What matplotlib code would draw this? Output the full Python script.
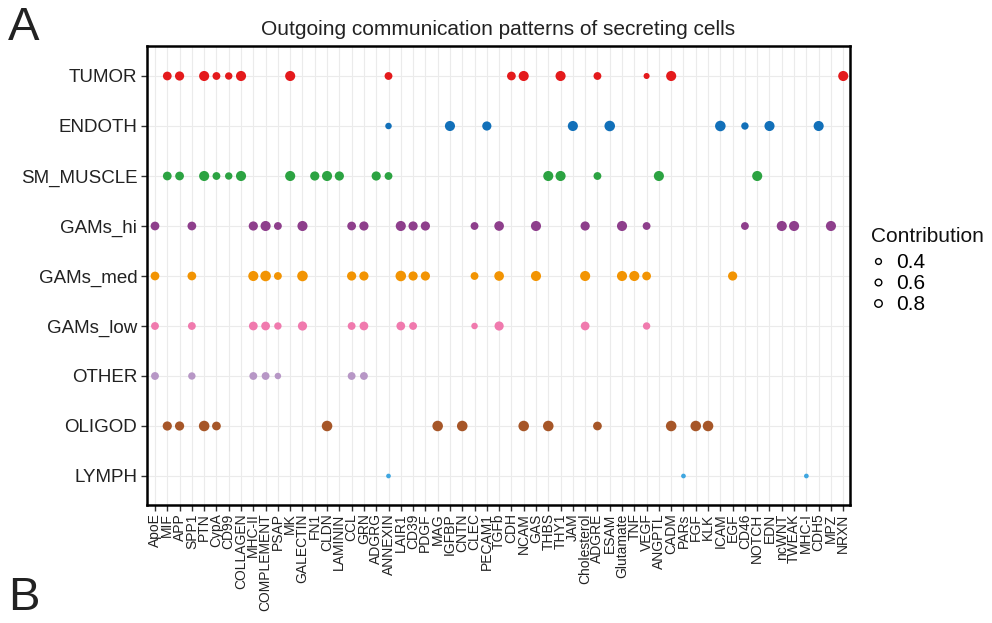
import matplotlib
matplotlib.use("Agg")
import matplotlib.pyplot as plt
from matplotlib.lines import Line2D

plt.rcParams['font.family'] = ['Liberation Sans', 'DejaVu Sans']

signals = ["ApoE", "MIF", "APP", "SPP1", "PTN", "CypA", "CD99", "COLLAGEN", "MHC-II",
           "COMPLEMENT", "PSAP", "MK", "GALECTIN", "FN1", "CLDN", "LAMININ", "CCL", "GRN",
           "ADGRG", "ANNEXIN", "LAIR1", "CD39", "PDGF", "MAG", "IGFBP", "CNTN", "CLEC",
           "PECAM1", "TGFb", "CDH", "NCAM", "GAS", "THBS", "THY1", "JAM", "Cholesterol",
           "ADGRE", "ESAM", "Glutamate", "TNF", "VEGF", "ANGPTL", "CADM", "PARs", "FGF",
           "KLK", "ICAM", "EGF", "CD46", "NOTCH", "EDN", "ncWNT", "TWEAK", "MHC-I", "CDH5",
           "MPZ", "NRXN"]

cell_types = ["TUMOR", "ENDOTH", "SM_MUSCLE", "GAMs_hi", "GAMs_med", "GAMs_low",
              "OTHER", "OLIGOD", "LYMPH"]

colors = ["#E41A1C", "#1270B9", "#2CA342", "#8E3F8C", "#F29403", "#F07AAE",
          "#B797C6", "#A65628", "#3FA6E0"]

tumor = {"MIF": 0.75, "APP": 0.8, "PTN": 0.9, "CypA": 0.65, "CD99": 0.6, "COLLAGEN": 0.9,
         "MK": 0.9, "ANNEXIN": 0.65, "CDH": 0.75, "NCAM": 0.9, "THY1": 0.9, "ADGRE": 0.65,
         "VEGF": 0.45, "CADM": 0.9, "NRXN": 0.9}
endoth = {"ANNEXIN": 0.5, "IGFBP": 0.9, "PECAM1": 0.8, "JAM": 0.9, "ESAM": 0.95,
          "ICAM": 0.95, "CD46": 0.6, "EDN": 0.9, "CDH5": 0.9}
sm_muscle = {"MIF": 0.75, "APP": 0.75, "PTN": 0.9, "CypA": 0.65, "CD99": 0.6,
             "COLLAGEN": 0.9, "MK": 0.9, "FN1": 0.8, "CLDN": 0.9, "LAMININ": 0.8,
             "ADGRG": 0.8, "ANNEXIN": 0.65, "THBS": 0.9, "THY1": 0.9, "ADGRE": 0.65,
             "ANGPTL": 0.9, "NOTCH": 0.9}
gams_hi = {"ApoE": 0.75, "SPP1": 0.75, "MHC-II": 0.8, "COMPLEMENT": 0.9, "PSAP": 0.65,
           "GALECTIN": 0.9, "CCL": 0.75, "GRN": 0.8, "LAIR1": 0.9, "CD39": 0.8, "PDGF": 0.8,
           "CLEC": 0.65, "TGFb": 0.85, "GAS": 0.9, "Cholesterol": 0.8, "Glutamate": 0.9,
           "VEGF": 0.65, "CD46": 0.65, "ncWNT": 0.9, "TWEAK": 0.9, "MPZ": 0.9}
gams_med = {"ApoE": 0.75, "SPP1": 0.75, "MHC-II": 0.9, "COMPLEMENT": 0.95, "PSAP": 0.65,
            "GALECTIN": 0.95, "CCL": 0.8, "GRN": 0.8, "LAIR1": 0.95, "CD39": 0.8,
            "PDGF": 0.8, "CLEC": 0.65, "TGFb": 0.85, "GAS": 0.9, "Cholesterol": 0.9,
            "Glutamate": 0.9, "TNF": 0.9, "VEGF": 0.75, "EGF": 0.8}
gams_low = {"ApoE": 0.65, "SPP1": 0.65, "MHC-II": 0.75, "COMPLEMENT": 0.75, "PSAP": 0.6,
            "GALECTIN": 0.8, "CCL": 0.65, "GRN": 0.75, "LAIR1": 0.75, "CD39": 0.65,
            "CLEC": 0.5, "TGFb": 0.8, "Cholesterol": 0.75, "VEGF": 0.6}
other = {"ApoE": 0.65, "SPP1": 0.6, "MHC-II": 0.65, "COMPLEMENT": 0.65, "PSAP": 0.5,
         "CCL": 0.65, "GRN": 0.65}
oligod = {"MIF": 0.8, "APP": 0.8, "PTN": 0.95, "CypA": 0.75, "CLDN": 0.95, "MAG": 0.95,
          "CNTN": 0.95, "NCAM": 0.95, "THBS": 0.95, "ADGRE": 0.75, "CADM": 0.95,
          "FGF": 0.95, "KLK": 0.95}
lymph = {"ANNEXIN": 0.3, "PARs": 0.3, "MHC-I": 0.3}

rows = [tumor, endoth, sm_muscle, gams_hi, gams_med, gams_low, other, oligod, lymph]

legend_values = [0.4, 0.6, 0.8]

DPI = 100
fig = plt.figure(figsize=(9.92, 6.23), dpi=DPI)
ax = fig.add_axes([147 / 992, 1 - 505 / 623, (850 - 147) / 992, (505 - 46) / 623])


def size_of(v):
    r_px = 1.0 + 4.5 * v
    d_pt = 2 * r_px * 72 / DPI
    return d_pt ** 2


for i, (row, col) in enumerate(zip(rows, colors)):
    xs = [signals.index(k) for k in row]
    ys = [i] * len(xs)
    ss = [size_of(v) for v in row.values()]
    ax.scatter(xs, ys, s=ss, c=col, linewidths=0, zorder=3)

ax.set_xlim(-0.65, len(signals) - 1 + 0.55)
ax.set_ylim(len(cell_types) - 1 + 0.58, -0.6)
ax.set_xticks(range(len(signals)))
ax.set_xticklabels(signals, rotation=90, fontsize=10, color="#222222")
ax.set_yticks(range(len(cell_types)))
ax.set_yticklabels(cell_types, fontsize=13.5, color="#222222")
ax.grid(True, color="#EBEBEB", linewidth=0.8, zorder=0)
ax.set_axisbelow(True)
for sp in ax.spines.values():
    sp.set_linewidth(1.8)
    sp.set_color("black")
ax.tick_params(axis="both", length=4, width=1, color="#333333")
ax.tick_params(axis="x", pad=2)
ax.tick_params(axis="y", pad=3)
ax.set_title("Outgoing communication patterns of secreting cells", fontsize=15, pad=8,
             color="#222222")

fig.text(871 / 992, 1 - 237 / 623, "Contribution", fontsize=15, va="center", ha="left",
         color="#111111")
handles = [Line2D([], [], linestyle="none", marker="o", markerfacecolor="none",
                  markeredgecolor="black", markeredgewidth=1.0,
                  markersize=4.2 + 0.6 * k, label=str(v))
           for k, v in enumerate(legend_values)]
leg = fig.legend(handles=handles, loc="upper left",
                 bbox_to_anchor=(868 / 992, 1 - 253 / 623), frameon=False,
                 fontsize=15, handletextpad=0.35,
                 labelspacing=0.1, borderaxespad=0, borderpad=0, handlelength=1.0)

fig.text(8 / 992, 1 - 28 / 623, "A", fontsize=34, va="center", ha="left", color="#222222")
fig.text(8 / 992, 1 - 598 / 623, "B", fontsize=34, va="center", ha="left", color="#222222")

fig.savefig("out.png", dpi=DPI)
